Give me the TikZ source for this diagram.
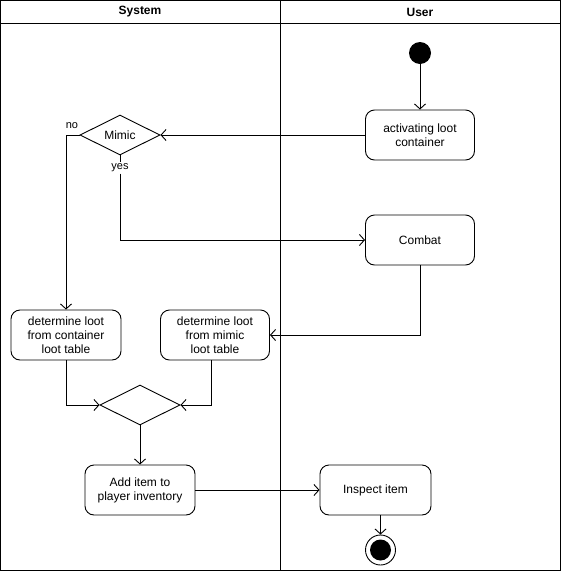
\documentclass[tikz,border=0pt]{standalone}
\usepackage{fontspec}
\setmainfont{Liberation Sans}
\usetikzlibrary{arrows.meta,positioning,shapes.geometric}

\begin{document}
\begin{tikzpicture}[
  x=1pt, y=-1pt, font=\fontsize{12}{14}\selectfont, line width=0.9pt,
  act/.style={draw, rounded corners=9pt, minimum width=109pt, minimum height=50pt, align=center, inner sep=2pt},
  dec/.style={draw, diamond, aspect=2, inner sep=0pt, minimum width=80pt, minimum height=40pt},
  startdot/.style={circle, fill=black, inner sep=0pt, minimum size=22pt},
  stopring/.style={circle, draw, fill=white, inner sep=0pt, minimum size=30pt},
  lane/.style={font=\bfseries\fontsize{12}{14}\selectfont},
  lbl/.style={font=\fontsize{11}{13}\selectfont, inner sep=1pt},
  ar/.style={-{Straight Barb[length=5pt,width=11pt]}}
]
\useasboundingbox (0,0) rectangle (561,571);
% swimlanes
\draw (0.5,0.5) rectangle (560.5,570);
\draw (0.5,23) -- (560.5,23);
\draw (280.5,0.5) -- (280.5,570);
\node[lane] (sys) at (140,12) {System};
\node[lane] (usr) at (420,12) {User};

\node[startdot] (start) at (420,53) {};
\node[act] (open) at (420,135) {activating loot\\container};
\node[dec] (mimic) at (120,135) {Mimic};
\node[act] (combat) at (420,240) {Combat};
\node[act, minimum width=110pt] (fromcont) at (66,335) {determine loot\\from container\\loot table};
\node[act] (frommimic) at (215,335) {determine loot\\from mimic\\loot table};
\node[dec] (merge) at (140,405) {};
\node[act, minimum width=110pt] (additem) at (140,490) {Add item to\\player inventory};
\node[act, minimum width=111pt] (inspect) at (375.5,490) {Inspect item};
\node[stopring] (stop) at (380.5,550) {};
\node[startdot, minimum size=21pt] (stopdot) at (stop) {};

\node[lbl] (no) at (72,126) {no};
\node[lbl] (yes) at (120,168) {yes};

\draw[ar] (start) -- (open);
\draw[ar] (open.west) -- (mimic.east);
\draw[ar] (mimic.west) -| (fromcont.north);
\draw (mimic.south) -- (yes.north);
\draw[ar] (yes.south) |- (combat.west);
\draw[ar] (combat.south) |- (frommimic.east);
\draw[ar] (fromcont.south) |- (merge.west);
\draw[ar] ([xshift=-4pt]frommimic.south) |- (merge.east);
\draw[ar] (merge.south) -- (additem.north);
\draw[ar] (additem.east) -- (inspect.west);
\draw[ar] (stop.north |- inspect.south) -- (stop.north);
\end{tikzpicture}
\end{document}
